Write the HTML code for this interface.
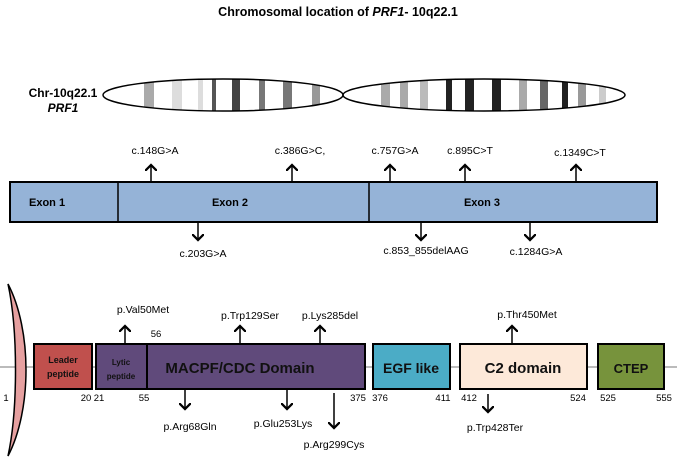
<!DOCTYPE html>
<html><head><meta charset="utf-8"><style>body{margin:0;background:#fff}svg{display:block}text{font-family:"Liberation Sans",Arial,sans-serif}</style></head><body>
<svg width="677" height="460" viewBox="0 0 677 460" xmlns="http://www.w3.org/2000/svg">
<defs><marker id="a" markerWidth="8" markerHeight="8" refX="4" refY="4" orient="auto"><path d="M0,0 L4,4 L0,8" fill="none" stroke="#000" stroke-width="1.5"/></marker></defs>
<text x="338" y="16" text-anchor="middle" font-size="12.5" font-weight="bold">Chromosomal location of <tspan font-style="italic">PRF1</tspan>- 10q22.1</text>
<text x="63" y="97" text-anchor="middle" font-size="12" font-weight="bold">Chr-10q22.1</text>
<text x="63" y="112" text-anchor="middle" font-size="12" font-weight="bold" font-style="italic">PRF1</text>
<clipPath id="cl"><ellipse cx="223" cy="95" rx="120" ry="16"/></clipPath>
<clipPath id="cr"><ellipse cx="484" cy="95" rx="141" ry="16"/></clipPath>
<g clip-path="url(#cl)">
<rect x="144" y="70" width="10" height="50" fill="#aaa"/><rect x="172" y="70" width="10" height="50" fill="#ddd"/><rect x="198" y="70" width="5" height="50" fill="#ddd"/><rect x="212" y="70" width="4" height="50" fill="#555"/><rect x="232" y="70" width="8" height="50" fill="#444"/><rect x="259" y="70" width="6" height="50" fill="#777"/><rect x="283" y="70" width="9" height="50" fill="#777"/><rect x="312" y="70" width="8" height="50" fill="#999"/>
</g>
<g clip-path="url(#cr)">
<rect x="381" y="70" width="9" height="50" fill="#aaa"/><rect x="400" y="70" width="8" height="50" fill="#aaa"/><rect x="420" y="70" width="8" height="50" fill="#bbb"/><rect x="446" y="70" width="6" height="50" fill="#222"/><rect x="465" y="70" width="9" height="50" fill="#222"/><rect x="492" y="70" width="9" height="50" fill="#222"/><rect x="519" y="70" width="8" height="50" fill="#aaa"/><rect x="540" y="70" width="8" height="50" fill="#666"/><rect x="562" y="70" width="6" height="50" fill="#222"/><rect x="578" y="70" width="8" height="50" fill="#999"/><rect x="599" y="70" width="7" height="50" fill="#ccc"/>
</g>
<ellipse cx="223" cy="95" rx="120" ry="16" fill="none" stroke="#000" stroke-width="1.5"/>
<ellipse cx="484" cy="95" rx="141" ry="16" fill="none" stroke="#000" stroke-width="1.5"/>
<rect x="10" y="182" width="647" height="40" fill="#95b3d7" stroke="#000" stroke-width="2"/>
<line x1="118" y1="182" x2="118" y2="222" stroke="#000" stroke-width="1.5"/><line x1="369" y1="182" x2="369" y2="222" stroke="#000" stroke-width="1.5"/>
<g font-size="11" font-weight="bold"><text x="29" y="206">Exon 1</text><text x="230" y="206" text-anchor="middle">Exon 2</text><text x="482" y="206" text-anchor="middle">Exon 3</text></g>
<g stroke="#000" stroke-width="1.5" marker-end="url(#a)">
<line x1="151" y1="182" x2="151" y2="165"/><line x1="292" y1="182" x2="292" y2="165"/><line x1="390" y1="182" x2="390" y2="165"/><line x1="465" y1="182" x2="465" y2="165"/><line x1="576" y1="182" x2="576" y2="165"/>
<line x1="198" y1="222" x2="198" y2="240"/><line x1="421" y1="222" x2="421" y2="240"/><line x1="530" y1="222" x2="530" y2="240"/>
</g>
<g font-size="10.5" text-anchor="middle">
<text x="155" y="154">c.148G&gt;A</text><text x="300" y="154">c.386G&gt;C,</text><text x="395" y="154">c.757G&gt;A</text><text x="470" y="154">c.895C&gt;T</text><text x="580" y="156">c.1349C&gt;T</text>
<text x="203" y="257">c.203G&gt;A</text><text x="426" y="254">c.853_855delAAG</text><text x="536" y="255">c.1284G&gt;A</text>
</g>
<line x1="0" y1="367" x2="677" y2="367" stroke="#777" stroke-width="1"/>
<path d="M8,284 C32,330 32,410 8,456 C18,410 18,330 8,284 Z" fill="#e6a0a0" stroke="#000" stroke-width="1.5"/>
<rect x="34" y="344" width="58" height="45" fill="#c0504d" stroke="#000" stroke-width="2"/>
<rect x="96" y="344" width="269" height="45" fill="#604a7b" stroke="#000" stroke-width="2"/>
<line x1="147" y1="344" x2="147" y2="389" stroke="#000" stroke-width="2"/>
<rect x="373" y="344" width="77" height="45" fill="#4bacc6" stroke="#000" stroke-width="2"/>
<rect x="460" y="344" width="127" height="45" fill="#fde9d9" stroke="#000" stroke-width="2"/>
<rect x="598" y="344" width="66" height="45" fill="#77933c" stroke="#000" stroke-width="2"/>
<g font-weight="bold" text-anchor="middle" fill="#111">
<text x="63" y="363" font-size="9">Leader</text><text x="63" y="377" font-size="9">peptide</text>
<text x="121" y="365" font-size="8">Lytic</text><text x="121" y="379" font-size="8">peptide</text>
<text x="240" y="373" font-size="15">MACPF/CDC Domain</text>
<text x="411" y="373" font-size="14">EGF like</text>
<text x="523" y="373" font-size="15">C2 domain</text>
<text x="631" y="373" font-size="13">CTEP</text>
</g>
<g font-size="9.5" text-anchor="middle">
<text x="6" y="401">1</text><text x="86" y="401">20</text><text x="99" y="401">21</text><text x="144" y="401">55</text><text x="156" y="337">56</text><text x="358" y="401">375</text><text x="380" y="401">376</text><text x="443" y="401">411</text><text x="469" y="401">412</text><text x="578" y="401">524</text><text x="608" y="401">525</text><text x="664" y="401">555</text>
</g>
<g stroke="#000" stroke-width="1.5" marker-end="url(#a)">
<line x1="125" y1="344" x2="125" y2="326"/><line x1="240" y1="344" x2="240" y2="326"/><line x1="320" y1="344" x2="320" y2="326"/><line x1="512" y1="344" x2="512" y2="326"/>
<line x1="185" y1="389" x2="185" y2="409"/><line x1="287" y1="389" x2="287" y2="409"/><line x1="334" y1="393" x2="334" y2="428"/><line x1="488" y1="394" x2="488" y2="412"/>
</g>
<g font-size="10.5" text-anchor="middle">
<text x="143" y="313">p.Val50Met</text><text x="250" y="319">p.Trp129Ser</text><text x="330" y="319">p.Lys285del</text><text x="527" y="318">p.Thr450Met</text>
<text x="190" y="430">p.Arg68Gln</text><text x="283" y="427">p.Glu253Lys</text><text x="334" y="448">p.Arg299Cys</text><text x="495" y="431">p.Trp428Ter</text>
</g>
</svg>
</body></html>
